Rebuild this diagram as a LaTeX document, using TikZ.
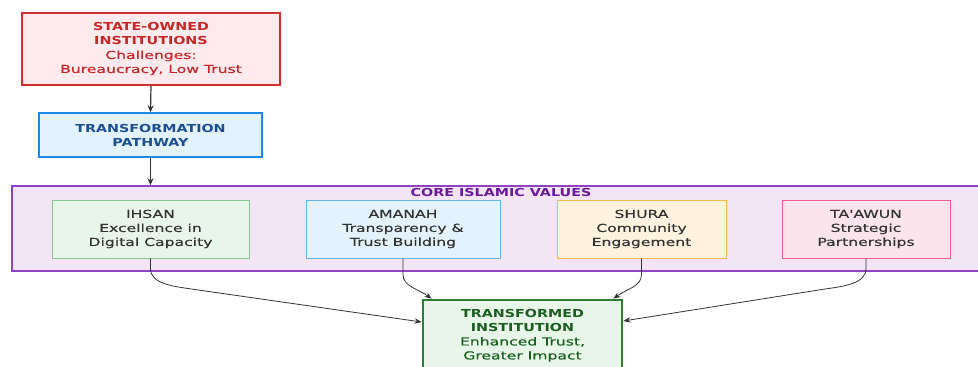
\documentclass[tikz,border=0pt]{standalone}
\usepackage{fontspec}
\usetikzlibrary{arrows.meta,calc}
\newfontfamily\rg{DejaVu Sans}[FakeStretch=1.42,FakeBold=0.4]
\newfontfamily\bd{DejaVu Sans Bold}[FakeStretch=1.3]

\definecolor{redfill}{HTML}{FFEBEE}
\definecolor{redline}{HTML}{D32F2F}
\definecolor{redtext}{HTML}{C62828}
\definecolor{bluefill}{HTML}{E3F2FD}
\definecolor{blueline}{HTML}{1E88E5}
\definecolor{bluetext}{HTML}{1B4F8F}
\definecolor{purplefill}{HTML}{F3E5F5}
\definecolor{purpleline}{HTML}{8E44C4}
\definecolor{purpletext}{HTML}{6A1B9A}
\definecolor{greenfill}{HTML}{E8F5E9}
\definecolor{greenline}{HTML}{8BC48F}
\definecolor{lblueline}{HTML}{64B5F6}
\definecolor{orangefill}{HTML}{FFF3E0}
\definecolor{orangeline}{HTML}{FFB74D}
\definecolor{pinkfill}{HTML}{FCE4EC}
\definecolor{pinkline}{HTML}{F06292}
\definecolor{darkgreen}{HTML}{2E7D32}
\definecolor{darkgreentext}{HTML}{1B5E20}
\definecolor{bodytext}{HTML}{333333}
\definecolor{wire}{HTML}{333333}

\begin{document}
\begin{tikzpicture}[x=1pt,y=-1pt,
  box/.style={draw, align=center, inner sep=0pt, line width=1pt,
    font=\rg\fontsize{11}{14}\selectfont},
  valuebox/.style={box, minimum height=58pt, text=bodytext, line width=0.9pt},
  flow/.style={draw=wire, line width=1.2pt, -{Stealth[length=7pt,width=6pt]}},
  link/.style={draw=wire, line width=0.8pt, -{Stealth[length=7pt,width=5.5pt]}}]
\useasboundingbox (0,0) rectangle (978,367);
\clip (0,0) rectangle (978,367);

% top chain
\node[box, fill=redfill, draw=redline, text=redtext, line width=1.4pt,
  minimum width=258pt, minimum height=72pt] (state) at (151,49)
  {{\bd STATE-OWNED}\\{\bd INSTITUTIONS}\\Challenges:\\Bureaucracy, Low Trust};
\node[box, fill=bluefill, draw=blueline, text=bluetext, line width=1.4pt,
  minimum width=223pt, minimum height=44pt] (path) at (150.5,135)
  {{\bd TRANSFORMATION}\\{\bd PATHWAY}};

% group of core values
\node[box, fill=purplefill, draw=purpleline, line width=1.6pt,
  minimum width=978pt, minimum height=85pt] (core) at (501,228.5) {};
\node[text=purpletext, inner sep=0pt, font=\bd\fontsize{11}{14}\selectfont]
  (coretitle) at (501,192) {CORE ISLAMIC VALUES};

\node[valuebox, fill=greenfill, draw=greenline, minimum width=197pt]
  (ihsan) at (150.5,229) {IHSAN\\Excellence in\\Digital Capacity};
\node[valuebox, fill=bluefill, draw=lblueline, minimum width=194pt]
  (amanah) at (403,229) {AMANAH\\Transparency \&\\Trust Building};
\node[valuebox, fill=orangefill, draw=orangeline, minimum width=169pt]
  (shura) at (641.5,229) {SHURA\\Community\\Engagement};
\node[valuebox, fill=pinkfill, draw=pinkline, minimum width=168pt]
  (taawun) at (866,229) {TA'AWUN\\Strategic\\Partnerships};

% outcome
\node[box, fill=greenfill, draw=darkgreen, text=darkgreentext, line width=2.8pt,
  minimum width=199pt, minimum height=71pt] (result) at (522.5,335.5)
  {{\bd TRANSFORMED}\\{\bd INSTITUTION}\\Enhanced Trust,\\Greater Impact};

% connectors
\draw[flow] (state.south) -- (path.north);
\draw[flow] (path.south) -- (path.south |- core.north);

\draw[link] (ihsan.south) -- ++(0,10) .. controls +(0,16) and +(-20,-3) .. ++(44,21)
  -- ($(result.west)+(0,-13.5)$);
\draw[link] (amanah.south) -- ++(0,16) .. controls +(0,12) and +(-14,-10) ..
  ($(result.north west)+(10,0)$);
\draw[link] (shura.south) -- ++(0,16) .. controls +(0,12) and +(14,-10) ..
  ($(result.north east)+(-10,0)$);
\draw[link] (taawun.south) -- ++(0,10) .. controls +(0,16) and +(20,-3) .. ++(-44,21)
  -- ($(result.east)+(0,-14.5)$);
\end{tikzpicture}
\end{document}
